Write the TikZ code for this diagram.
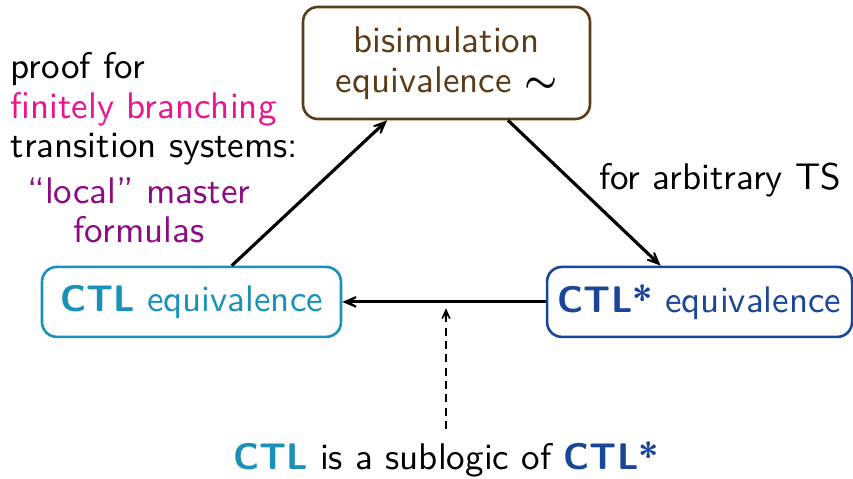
\documentclass[tikz,border=0pt]{standalone}
\usepackage{fontspec}
\usepackage{tikz}
\usetikzlibrary{arrows.meta}

\definecolor{bisimbrown}{RGB}{90,60,25}
\definecolor{ctlcyan}{RGB}{25,145,185}
\definecolor{ctlblue}{RGB}{25,70,150}
\definecolor{branchpink}{RGB}{235,20,140}
\definecolor{localpurple}{RGB}{140,10,130}

\begin{document}
\begin{tikzpicture}[
      every node/.style={font=\sffamily\fontsize{10}{10.7}\selectfont},
      eqbox/.style={draw, rounded corners=4pt, line width=0.7pt, align=center, inner sep=0pt},
      arr/.style={-{Stealth[length=7pt, width=6pt, inset=5pt]}, line width=0.85pt},
      lbl/.style={inner sep=0pt}
    ]
    \useasboundingbox (0,0) rectangle (8.094,4.545);

    % ══ the three equivalences ══════════════════════════════════════════════
    \node[eqbox, bisimbrown, minimum width=2.723cm, minimum height=1.063cm]
      (bisim) at (4.237,3.947) {bisimulation\\equivalence {\color{black}\boldmath$\sim$}};
    \node[eqbox, ctlcyan, minimum width=2.837cm, minimum height=0.664cm]
      (ctl) at (1.817,1.680) {\textbf{CTL} equivalence};
    \node[eqbox, ctlblue, minimum width=2.894cm, minimum height=0.664cm]
      (ctlstar) at (6.638,1.680) {\textbf{CTL*} equivalence};

    % ══ side remarks ════════════════════════════════════════════════════════
    \node[lbl, anchor=base west, align=left] (proof) at (0.095,3.046)
      {proof for\\\textcolor{branchpink}{finitely branching}\\transition systems:};
    \node[lbl, anchor=base, align=center, localpurple] (local) at (1.319,2.239)
      {``local''\ master\\formulas};
    \node[lbl, anchor=base] (arbit) at (6.832,2.742) {for arbitrary TS};

    \node[anchor=base] (sub) at (4.232,0.085)
      {\textcolor{ctlcyan}{\textbf{CTL}} is a sublogic of \textcolor{ctlblue}{\textbf{CTL*}}};

    % ══ implications ════════════════════════════════════════════════════════
    \draw[arr] (ctl.42) -- (bisim.224);
    \draw[arr] (bisim.317) -- (ctlstar.137);
    \draw[arr] (ctlstar.west) -- (ctl.east);

    \coordinate (tip) at (4.232,1.62);
    \draw[-{Stealth[length=5pt, width=4.5pt, inset=3.5pt]}, line width=0.55pt,
      dash pattern=on 2.2pt off 1.4pt] (sub.north) -- (tip);

  \end{tikzpicture}
\end{document}
